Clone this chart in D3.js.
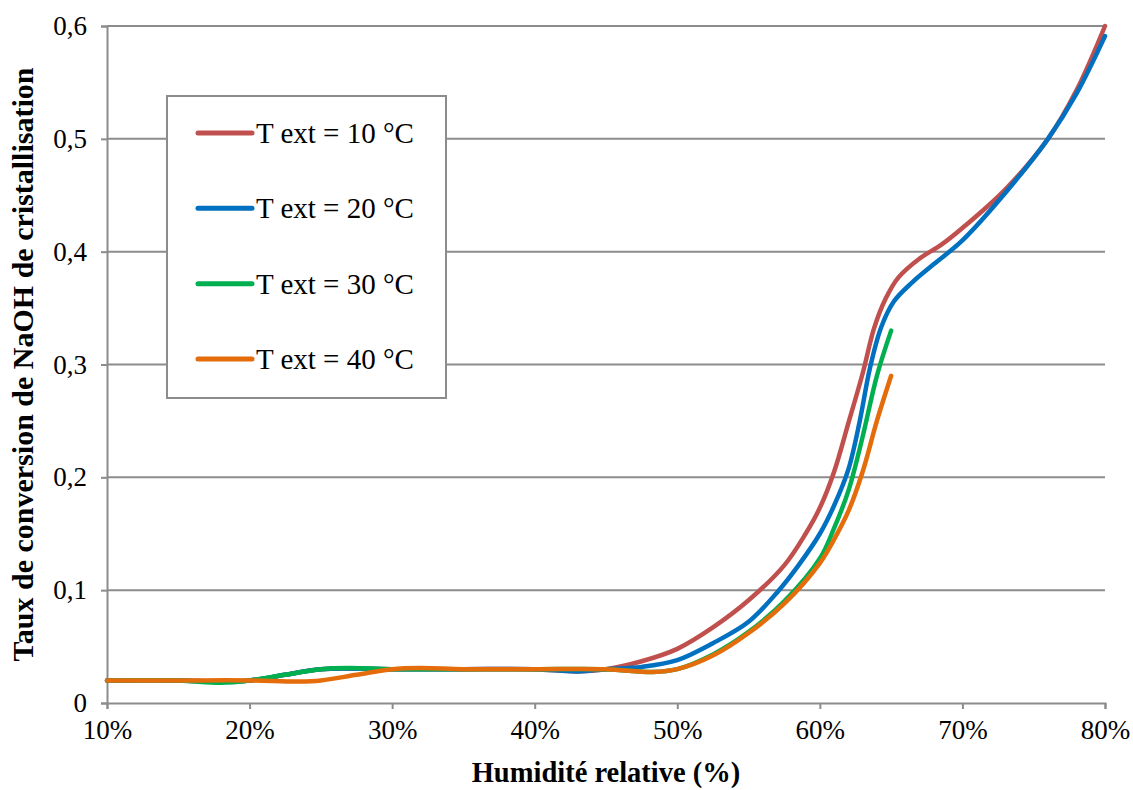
<!DOCTYPE html>
<html><head><meta charset="utf-8">
<script src="https://cdn.jsdelivr.net/npm/d3@7"></script>
<style>body{margin:0;background:#fff}svg{display:block}</style>
</head><body>
<svg id="chart" width="1133" height="790"></svg>
<script>
// ---- data ----
const seriesNames = ["T ext = 10 °C", "T ext = 20 °C", "T ext = 30 °C", "T ext = 40 °C"];
const seriesColors = ["#C0504D", "#0070C0", "#00B050", "#E46C0A"];
const t10 = [[10,.02],[15,.02],[18,.019],[20,.02],[22.5,.025],[25,.03],[30,.03],[35,.03],[40,.03],[43,.028],[45,.03],[47.5,.037],[50,.048],[52.5,.067],[55,.091],[57.5,.122],[59,.15],[60,.173],[61,.205],[62,.248],[63,.292],[63.8,.332],[64.6,.358],[65.5,.377],[67,.394],[68.5,.406],[70,.421],[73,.455],[76,.5],[78,.543],[80,.6]];
const t20 = [[10,.02],[15,.02],[18,.019],[20,.02],[22.5,.025],[25,.03],[30,.03],[35,.03],[40,.03],[43,.028],[45,.03],[47.5,.032],[50,.038],[52.5,.053],[55,.072],[57,.098],[58.5,.122],[60,.15],[61,.175],[62,.207],[62.8,.25],[63.5,.296],[64.3,.333],[65.2,.356],[66.5,.373],[68,.389],[70,.41],[73,.452],[76,.5],[78,.54],[80,.591]];
const t30 = [[10,.02],[15,.02],[18,.018],[20,.02],[22.5,.025],[25,.03],[27,.031],[30,.03],[35,.03],[40,.03],[45,.03],[48.3,.0275],[50,.03],[52.5,.043],[55,.063],[57.5,.09],[60,.128],[61,.155],[62,.188],[63,.236],[64,.29],[65,.33]];
const t40 = [[10,.02],[15,.02],[20,.02],[23.5,.019],[25,.02],[27.5,.025],[30,.03],[32,.031],[35,.03],[40,.03],[45,.03],[48.3,.0275],[50,.03],[52.5,.042],[55,.062],[57.5,.088],[60,.124],[61,.145],[62,.17],[63,.205],[64,.25],[65,.29]];
const seriesData = [t10, t20, t30, t40];
const xTicks = [10,20,30,40,50,60,70,80];
const yTicks = [0,0.1,0.2,0.3,0.4,0.5,0.6];
const xTitle = "Humidité relative (%)";
const yTitle = "Taux de conversion de NaOH de cristallisation";

// ---- layout ----
const svg = d3.select("#chart");
const L = 107, R = 1105, T = 26, B = 703;
const x = d3.scaleLinear().domain([10,80]).range([L,R]);
const y = d3.scaleLinear().domain([0,0.6]).range([B,T]);
const font = "'Liberation Serif','Times New Roman',serif";
const grey = "#8c8c8c";

// gridlines
svg.append("g").selectAll("line").data(yTicks.filter(d=>d>0)).join("line")
  .attr("x1",L).attr("x2",R).attr("y1",d=>y(d)).attr("y2",d=>y(d))
  .attr("stroke",grey).attr("stroke-width",2);

// axes
const fmtY = d => d===0 ? "0" : d3.format(".1f")(d).replace(".",",");
const yAxis = svg.append("g").attr("transform",`translate(${L},0)`)
  .call(d3.axisLeft(y).tickValues(yTicks).tickSize(6).tickPadding(14).tickFormat(fmtY));
const xAxis = svg.append("g").attr("transform",`translate(0,${B})`)
  .call(d3.axisBottom(x).tickValues(xTicks).tickSize(6).tickPadding(11).tickFormat(d=>d+"%"));
[yAxis,xAxis].forEach(a=>{
  a.select(".domain").attr("stroke",grey).attr("stroke-width",2);
  a.selectAll(".tick line").attr("stroke",grey).attr("stroke-width",2);
  a.selectAll(".tick text").attr("font-family",font).attr("font-size",27).attr("fill","#000");
});

// lines
const line = d3.line().x(d=>x(d[0])).y(d=>y(d[1])).curve(d3.curveCatmullRom.alpha(0.5));
svg.append("g").selectAll("path").data(seriesData).join("path")
  .attr("d",line).attr("fill","none")
  .attr("stroke",(d,i)=>seriesColors[i]).attr("stroke-width",4.5)
  .attr("stroke-linecap","round").attr("stroke-linejoin","round");

// titles
svg.append("text").attr("x",(L+R)/2).attr("y",782).attr("text-anchor","middle")
  .attr("font-family",font).attr("font-weight","bold").attr("font-size",28.5).text(xTitle);
svg.append("text").attr("transform",`translate(33,${(T+B)/2}) rotate(-90)`).attr("text-anchor","middle")
  .attr("font-family",font).attr("font-weight","bold").attr("font-size",30).text(yTitle);

// legend
const lg = svg.append("g");
lg.append("rect").attr("x",167).attr("y",96).attr("width",279).attr("height",302)
  .attr("fill","#fff").attr("stroke",grey).attr("stroke-width",2);
const legY = d3.scalePoint().domain(seriesNames).range([133,359]);
const items = lg.selectAll("g.item").data(seriesNames).join("g").attr("class","item")
  .attr("transform",d=>`translate(0,${legY(d)})`);
items.append("line").attr("x1",198).attr("x2",252).attr("y1",0).attr("y2",0)
  .attr("stroke",(d,i)=>seriesColors[i]).attr("stroke-width",5).attr("stroke-linecap","round");
items.append("text").attr("x",256).attr("y",10).attr("font-family",font).attr("font-size",29)
  .attr("fill","#000").text(d=>d);
</script>
</body></html>
